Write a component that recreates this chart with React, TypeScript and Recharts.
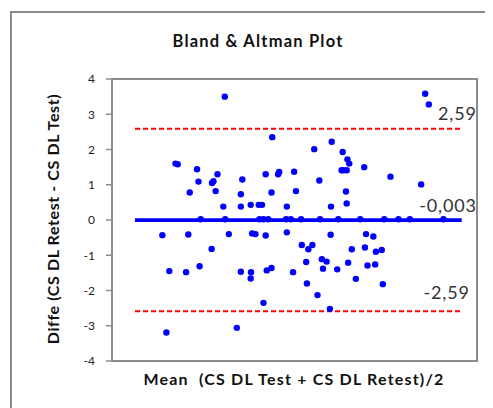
import {
  ScatterChart, Scatter, XAxis, YAxis, ReferenceLine, ReferenceArea
} from 'recharts';

// mean of test/retest (x) and difference (y)
const MEAN_X = [
  30.9, 85.8, 86.8, 43.9, 60.2, 55.4, 63.2, 64.5, 65.0, 17.4, 18.0, 69.1, 23.3, 64.3, 63.4, 62.9,
  49.9, 45.8, 45.5, 28.9, 42.1, 76.3, 23.7, 27.4, 27.8, 35.7, 56.8, 84.7, 21.3, 28.4, 35.3, 43.7,
  50.4, 64.1, 64.3, 30.5, 35.3, 38.0, 40.2, 41.1, 47.9, 60.0,
  24.3, 31.0, 40.4, 41.5, 42.8, 47.7, 49.0, 51.8, 57.0, 62.0, 68.0, 74.6, 78.5, 81.6, 90.8,
  13.8, 20.9, 32.0, 38.4, 39.3, 42.1, 47.9, 59.9, 69.6, 71.6, 52.0, 54.9, 53.8, 27.3, 65.7, 69.3,
  72.3, 73.9, 57.5, 53.2, 58.8, 64.7, 70.0, 72.1, 24.0, 57.8, 61.7, 43.7, 42.4, 15.7, 20.3, 35.3,
  38.1, 49.6, 38.0, 66.8, 53.4, 74.2, 56.3, 41.5, 59.7, 34.2, 14.9,
];
const DIFF_Y = [
  3.5, 3.58, 3.28, 2.35, 2.22, 2.01, 1.93, 1.72, 1.6, 1.6, 1.58, 1.5, 1.44, 1.41, 1.41, 1.41,
  1.37, 1.36, 1.3, 1.3, 1.3, 1.23, 1.09, 1.05, 1.1, 1.15, 1.12, 1.01, 0.78, 0.82, 0.73, 0.78,
  0.82, 0.81, 0.47, 0.38, 0.38, 0.43, 0.43, 0.43, 0.38, 0.38,
  0.02, 0.02, 0.02, 0.02, 0.02, 0.02, 0.02, 0.02, 0.02, 0.02, 0.02, 0.02, 0.02, 0.02, 0.02,
  -0.43, -0.41, -0.4, -0.38, -0.4, -0.44, -0.35, -0.42, -0.4, -0.47, -0.71, -0.71, -0.83, -0.82, -0.83, -0.78,
  -0.9, -0.85, -1.11, -1.19, -1.18, -1.21, -1.29, -1.26, -1.31, -1.38, -1.4, -1.36, -1.43, -1.45, -1.48, -1.47,
  -1.48, -1.48, -1.66, -1.67, -1.8, -1.82, -2.13, -2.35, -2.52, -3.06, -3.19,
];
const Y_TICKS = [-4, -3, -2, -1, 0, 1, 2, 3, 4];
const LINE_X = [6.3, 95.8];
const MEAN_DIFF = -0.003;
const UPPER = 2.59;
const LOWER = -2.59;
const LABELS = ['2,59', '-0,003', '-2,59'];

const data = MEAN_X.map((x, i) => ({ x, y: DIFF_Y[i] }));

const FONT = 'Lato, "Open Sans", sans-serif';

const lineLabel = (text: string, dx: number, dy: number) => (props: any) => {
  const vb = props.viewBox || {};
  return (
    <text
      x={vb.x + vb.width + dx}
      y={vb.y + dy}
      textAnchor="end"
      fontFamily={FONT}
      fontSize={18}
      letterSpacing={0.8}
      fill="#333"
    >
      {text}
    </text>
  );
};

const dot = (p: any) => <circle cx={p.cx} cy={p.cy} r={3.2} fill="#0000ff" />;

const seg = (y: number) => [{ x: LINE_X[0], y }, { x: LINE_X[1], y }];

export default function App() {
  return (
    <div style={{ position: 'relative', width: 485, height: 400, overflow: 'hidden', fontFamily: FONT }}>
      <div style={{
        position: 'absolute', left: 2, top: 3, width: 600, height: 600,
        borderLeft: '2px solid #8c8c8c', borderTop: '2px solid #8c8c8c'
      }} />
      <div style={{
        position: 'absolute', left: 250, top: 33, transform: 'translate(-50%, -50%)',
        fontWeight: 700, fontSize: 16.5, letterSpacing: 1.2, whiteSpace: 'nowrap', color: '#111'
      }}>
        Bland &amp; Altman Plot
      </div>
      <div style={{
        position: 'absolute', left: 44, top: 211, transform: 'translate(-50%, -50%) rotate(-90deg)',
        fontWeight: 700, fontSize: 16, letterSpacing: 0.6, whiteSpace: 'nowrap', color: '#111'
      }}>
        Diffe (CS DL Retest - CS DL Test)
      </div>
      <div style={{
        position: 'absolute', left: 286, top: 370, transform: 'translate(-50%, -50%)',
        fontWeight: 700, fontSize: 16, letterSpacing: 1.2, whiteSpace: 'pre', color: '#111'
      }}>
        {'Mean  (CS DL Test + CS DL Retest)/2'}
      </div>
      <div style={{ position: 'absolute', left: 0, top: 0 }}>
        <ScatterChart width={485} height={400} margin={{ top: 71, right: 16, bottom: 0, left: 0 }}>
          <XAxis type="number" dataKey="x" domain={[0, 100]} height={47} tick={false} axisLine={false} tickLine={false} />
          <YAxis
            type="number"
            dataKey="y"
            domain={[-4, 4]}
            ticks={Y_TICKS}
            width={104}
            tickSize={6}
            tickMargin={11}
            axisLine={{ stroke: '#8c8c8c', strokeWidth: 2 }}
            tickLine={{ stroke: '#8c8c8c', strokeWidth: 1.5 }}
            tick={{ fontSize: 12, fill: '#222', fontFamily: FONT }}
          />
          <ReferenceArea x1={0} x2={100} y1={-4} y2={4} stroke="#8c8c8c" strokeWidth={2} fill="none" fillOpacity={0} />
          <ReferenceLine segment={seg(UPPER)} stroke="#ff0000" strokeWidth={2} strokeDasharray="5 3" label={lineLabel(LABELS[0], 15, -9)} />
          <ReferenceLine segment={seg(LOWER)} stroke="#ff0000" strokeWidth={2} strokeDasharray="5 3" label={lineLabel(LABELS[2], 8, -12)} />
          <ReferenceLine segment={seg(MEAN_DIFF)} stroke="#0000ff" strokeWidth={3.6} label={lineLabel(LABELS[1], 15, -8)} />
          <Scatter data={data} fill="#0000ff" shape={dot} isAnimationActive={false} />
        </ScatterChart>
      </div>
    </div>
  );
}
